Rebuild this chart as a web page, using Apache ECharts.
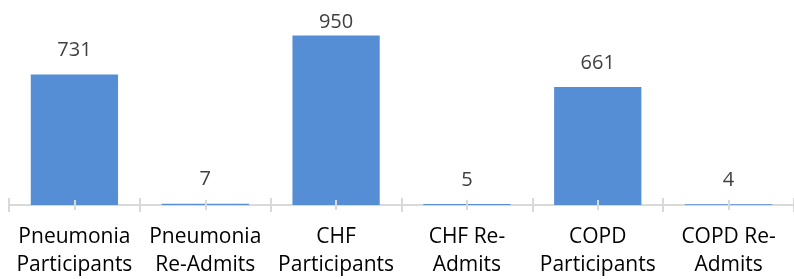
<!DOCTYPE html>
<html>
<head>
<meta charset="utf-8">
<script src="https://cdn.jsdelivr.net/npm/echarts@6/dist/echarts.min.js"></script>
<style>
  html, body { margin: 0; padding: 0; background: #fff; }
  #chart { width: 794px; height: 279px; }
</style>
</head>
<body>
<div id="chart"></div>
<script>
// 分类与数值
var categories = ['Pneumonia\nParticipants', 'Pneumonia\nRe-Admits', 'CHF\nParticipants', 'CHF Re-\nAdmits', 'COPD\nParticipants', 'COPD Re-\nAdmits'];
var counts = [731, 7, 950, 5, 661, 4];

var chart = echarts.init(document.getElementById('chart'));
var tickColor = '#d9d9d9';

// 最高的柱子标签贴近柱顶（原图中被挤下来了）
var maxCount = Math.max.apply(null, counts);
var barData = counts.map(function (v) {
  return v === maxCount ? { value: v, label: { distance: 3 } } : v;
});

var option = {
  animation: false,
  grid: { left: 9, top: 26.5, width: 790, bottom: 72 },
  xAxis: [
    {
      type: 'category',
      data: categories,
      axisLine: { lineStyle: { color: tickColor, width: 2 } },
      axisTick: { show: false },
      axisLabel: {
        interval: 0,
        margin: 18,
        color: '#000',
        fontFamily: 'Open Sans',
        fontSize: 21,
        lineHeight: 28
      }
    },
    {
      // 分类边界刻度（跨轴线）
      type: 'category',
      data: categories,
      position: 'bottom',
      offset: -7,
      z: 5,
      axisLine: { show: false },
      axisLabel: { show: false },
      axisTick: { show: true, interval: 0, length: 14, lineStyle: { color: tickColor, width: 2 } }
    },
    {
      // 分类中点刻度
      type: 'category',
      data: categories,
      position: 'bottom',
      offset: -5,
      z: 5,
      axisLine: { show: false },
      axisLabel: { show: false },
      axisTick: { show: true, interval: 0, alignWithLabel: true, length: 10, lineStyle: { color: tickColor, width: 2 } }
    }
  ],
  yAxis: {
    type: 'value',
    min: 0,
    max: 1000,
    show: false,
    splitLine: { show: false }
  },
  series: [{
    type: 'bar',
    data: barData,
    barWidth: '66.7%',
    itemStyle: { color: '#558ED5' },
    label: {
      show: true,
      position: 'top',
      distance: 14,
      color: '#404040',
      fontFamily: 'Open Sans',
      fontSize: 20
    }
  }]
};

chart.setOption(option);
</script>
</body>
</html>
